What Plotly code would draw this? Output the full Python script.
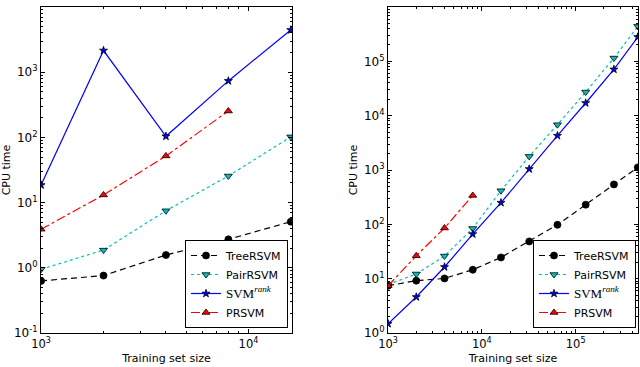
import plotly.graph_objects as go

# ---- data ----
sizes_left = [1000, 2000, 4000, 8000, 16000]
left_tree = [0.63, 0.76, 1.57, 2.73, 5.1]
left_pair = [0.95, 1.87, 7.5, 25.6, 102]
left_svm = [18.6, 2150, 104, 735, 4450]
left_pr = [3.9, 13.1, 52, 254]

sizes_right = [1000, 2000, 4000, 8000, 16000, 32000, 64000, 128000, 256000, 460000]
right_tree = [7.4, 9.2, 10.1, 14.6, 24.6, 48.5, 98, 230, 543, 1117]
right_pair = [7.8, 12.2, 26.1, 84, 416, 1780, 6820, 27200, 115000, 440000]
right_svm = [1.48, 4.6, 16.4, 66, 250, 1043, 4280, 17100, 71000, 280000]
right_pr = [7.4, 26.4, 85.5, 340]

series_names = ["TreeRSVM", "PairRSVM",
                '<span style="font-family:Liberation Serif;font-size:13px">SVM<sup><i>rank</i></sup></span>',
                "PRSVM"]

left_yticks = [0.1, 1, 10, 100, 1000, 10000]
left_yticktext = ["10<sup>-1</sup>", "10<sup>0</sup>", "10<sup>1</sup>", "10<sup>2</sup>",
                  "10<sup>3</sup>", "10<sup>4</sup>"]
left_xticks = [1000, 10000]
left_xticktext = ["10<sup>3</sup>", "10<sup>4</sup>"]
right_yticks = [1, 10, 100, 1000, 10000, 100000, 1000000]
right_yticktext = ["10<sup>0</sup>", "10<sup>1</sup>", "10<sup>2</sup>", "10<sup>3</sup>",
                   "10<sup>4</sup>", "10<sup>5</sup>", "10<sup>6</sup>"]
right_xticks = [1000, 10000, 100000]
right_xticktext = ["10<sup>3</sup>", "10<sup>4</sup>", "10<sup>5</sup>"]

FONT = "DejaVu Sans"

styles = [
    dict(line=dict(color="black", width=1.2, dash="6px,4px"),
         marker=dict(symbol="circle", size=7, color="black", line=dict(color="black", width=0.8))),
    dict(line=dict(color="#00BFBF", width=1.2, dash="dot"),
         marker=dict(symbol="triangle-down", size=7, color="#00BFBF", line=dict(color="black", width=0.8))),
    dict(line=dict(color="#0000FF", width=1.2),
         marker=dict(symbol="star", size=6, color="#0000FF", line=dict(color="black", width=0.8))),
    dict(line=dict(color="#FF0000", width=1.2, dash="dashdot"),
         marker=dict(symbol="triangle-up", size=7, color="#FF0000", line=dict(color="black", width=0.8))),
]

fig = go.Figure()

left_data = [(sizes_left, left_tree), (sizes_left, left_pair), (sizes_left, left_svm), (sizes_left[:4], left_pr)]
right_data = [(sizes_right, right_tree), (sizes_right, right_pair), (sizes_right, right_svm), (sizes_right[:4], right_pr)]

for i, (xs, ys) in enumerate(left_data):
    fig.add_trace(go.Scatter(x=xs, y=ys, mode="lines+markers", name=series_names[i],
                             xaxis="x", yaxis="y", legend="legend", cliponaxis=True, **styles[i]))
for i, (xs, ys) in enumerate(right_data):
    fig.add_trace(go.Scatter(x=xs, y=ys, mode="lines+markers", name=series_names[i],
                             xaxis="x2", yaxis="y2", legend="legend2", cliponaxis=True, **styles[i]))


def minor_vals(lo, hi):
    out = []
    for k in range(lo, hi):
        for m in range(2, 10):
            out.append(m * 10 ** k)
    return out


def axis(rng, tickvals, ticktext, domain, minor, title, standoff, anchor, tsize):
    return dict(type="log", range=rng, domain=domain, anchor=anchor, automargin=False,
                tickmode="array", tickvals=tickvals,
                ticktext=ticktext, ticks="inside", ticklen=4, tickwidth=0.8, tickcolor="black",
                showline=True, linecolor="black", linewidth=1, mirror="allticks",
                showgrid=False, zeroline=False,
                tickfont=dict(family=FONT, size=tsize, color="black"),
                minor=dict(tickmode="array", tickvals=minor, ticks="inside", ticklen=2,
                           tickwidth=0.6, tickcolor="black", showgrid=False),
                title=dict(text=title, font=dict(family=FONT, size=11, color="black"), standoff=standoff))


ybot = 1 - 333 / 367
ytop = 1 - 7 / 367

fig.update_layout(
    width=640, height=367,
    margin=dict(l=0, r=0, t=0, b=0, autoexpand=False),
    paper_bgcolor="white", plot_bgcolor="white",
    showlegend=True,
    xaxis=axis([2.9995, 4.21], left_xticks, left_xticktext, [41 / 640, 292 / 640], minor_vals(3, 5),
               "Training set size", 4, "y", 11.5),
    yaxis=axis([-1, 4], left_yticks, left_yticktext, [ybot, ytop], minor_vals(-1, 4), "CPU time", 4, "x", 12),
    xaxis2=axis([2.9995, 5.665], right_xticks, right_xticktext, [388 / 640, 638 / 640], minor_vals(3, 6),
                "Training set size", 4, "y2", 11.5),
    yaxis2=axis([0, 6], right_yticks, right_yticktext, [ybot, ytop], minor_vals(0, 6), "CPU time", 4, "x2", 12),
    legend=dict(x=288 / 640, y=1 - 328 / 367, xanchor="right", yanchor="bottom",
                bordercolor="black", borderwidth=1, bgcolor="white", itemwidth=30,
                font=dict(family=FONT, size=11, color="black"), tracegroupgap=0),
    legend2=dict(x=636 / 640, y=1 - 328 / 367, xanchor="right", yanchor="bottom",
                 bordercolor="black", borderwidth=1, bgcolor="white", itemwidth=30,
                 font=dict(family=FONT, size=11, color="black"), tracegroupgap=0),
)

fig.write_html("out.html", config={"displayModeBar": False},
               post_script="document.body.style.margin='0px';")
